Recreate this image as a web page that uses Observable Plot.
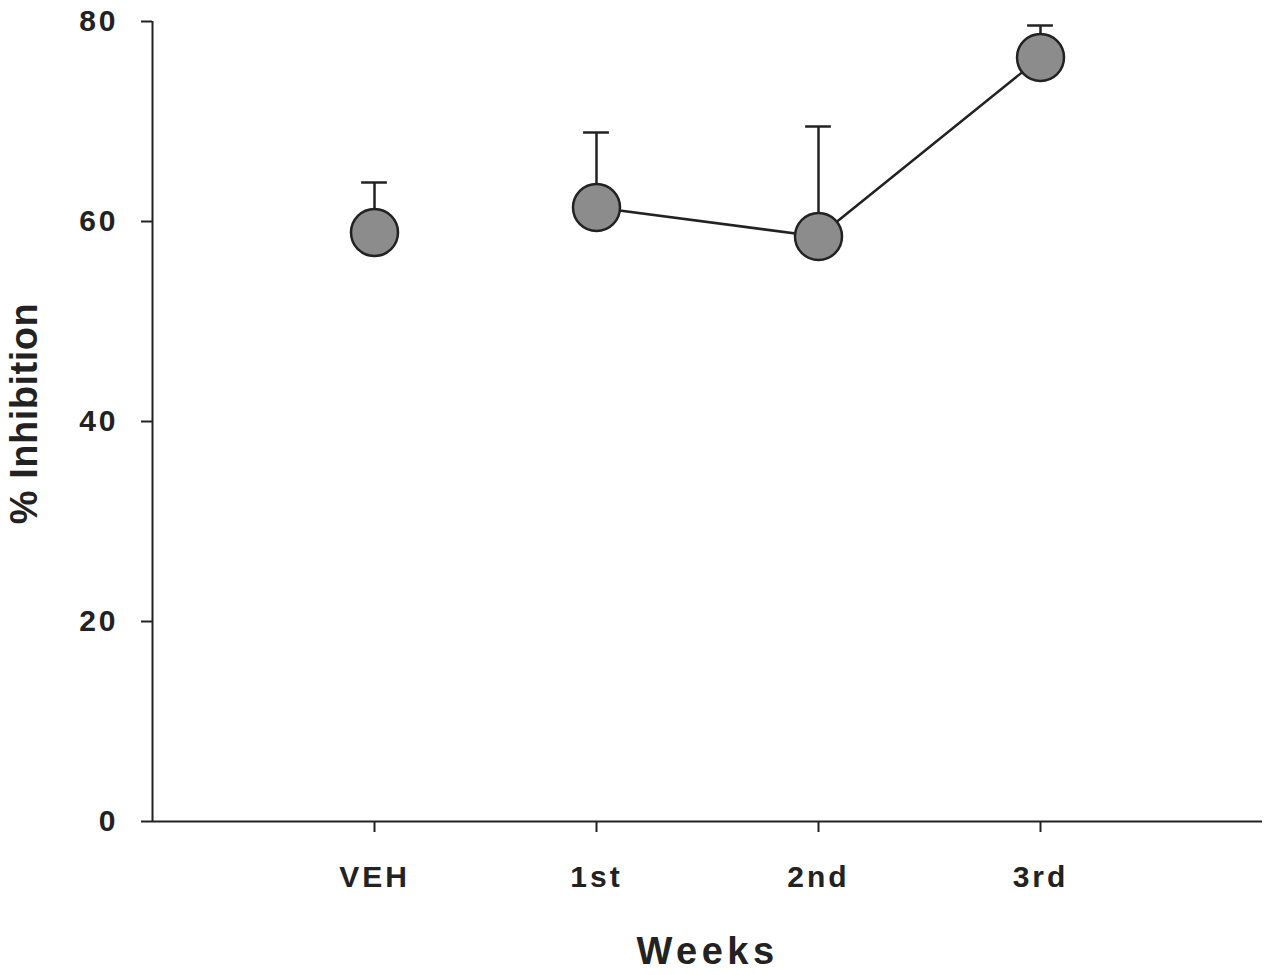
<!DOCTYPE html>
<html>
<head>
<meta charset="utf-8">
<script src="https://cdn.jsdelivr.net/npm/d3@7"></script>
<script src="https://cdn.jsdelivr.net/npm/@observablehq/plot@0.6"></script>
<style>
  html, body { margin: 0; padding: 0; background: #fff; }
  svg text { letter-spacing: 3px; }
</style>
</head>
<body>
<div id="chart"></div>
<script>
const weeks = ["VEH", "1st", "2nd", "3rd"];
const weekPos = [1, 2, 3, 4];
const inhibition = [58.9, 61.4, 58.5, 76.4];
const sem = [5.0, 7.5, 11.0, 3.2];
const connected = [false, true, true, true];
const yTicks = [0, 20, 40, 60, 80];
const xTitle = "Weeks";
const yTitle = "% Inhibition";

const data = weeks.map((w, i) => ({
  week: w, x: weekPos[i], y: inhibition[i], err: sem[i], top: inhibition[i] + sem[i], line: connected[i]
}));
const capHalf = 0.058;
const ink = "#222";
const font = "'Liberation Sans', Arial, Helvetica, sans-serif";

const chart = Plot.plot({
  width: 1275,
  height: 975,
  marginLeft: 152,
  marginRight: 13,
  marginTop: 21,
  marginBottom: 154,
  style: { fontFamily: font, color: ink, background: "#fff" },
  x: { domain: [0, 5], axis: null },
  y: { domain: [0, 80], axis: null },
  marks: [
    Plot.ruleX([0], { stroke: ink, strokeWidth: 2 }),
    Plot.ruleY([0], { stroke: ink, strokeWidth: 2 }),
    Plot.axisY({
      ticks: yTicks, tickSize: 11, tickPadding: 23, tickFormat: d => String(d),
      fontSize: 30, fontWeight: "bold", stroke: ink, strokeWidth: 2, fill: ink, label: null
    }),
    Plot.axisX({
      ticks: weekPos, tickSize: 11, tickPadding: 33, tickFormat: (d, i) => weeks[i],
      fontSize: 30, fontWeight: "bold", stroke: ink, strokeWidth: 2, fill: ink, label: null
    }),
    Plot.text([xTitle], {
      frameAnchor: "bottom", textAnchor: "middle", dy: 130, fontSize: 38, fontWeight: "bold", fill: ink, lineAnchor: "middle"
    }),
    Plot.text([yTitle], {
      frameAnchor: "left", textAnchor: "middle", dx: -128, dy: -8, rotate: -90, fontSize: 38, fontWeight: "bold", fill: ink, lineAnchor: "middle"
    }),
    Plot.ruleX(data, { x: "x", y1: "y", y2: "top", stroke: ink, strokeWidth: 2.5 }),
    Plot.ruleY(data, { y: "top", x1: d => d.x - capHalf, x2: d => d.x + capHalf, stroke: ink, strokeWidth: 2.5 }),
    Plot.line(data.filter(d => d.line), { x: "x", y: "y", stroke: ink, strokeWidth: 2.5 }),
    Plot.dot(data, { x: "x", y: "y", r: 23.5, fill: "#8c8c8c", stroke: ink, strokeWidth: 2.5 })
  ]
});
d3.select(chart).selectAll("text").each(function () {
  const t = this.textContent;
  if (t === xTitle) this.style.letterSpacing = "4.5px";
  else if (t === yTitle) this.style.letterSpacing = "0.5px";
});
document.getElementById("chart").appendChild(chart);
</script>
</body>
</html>
